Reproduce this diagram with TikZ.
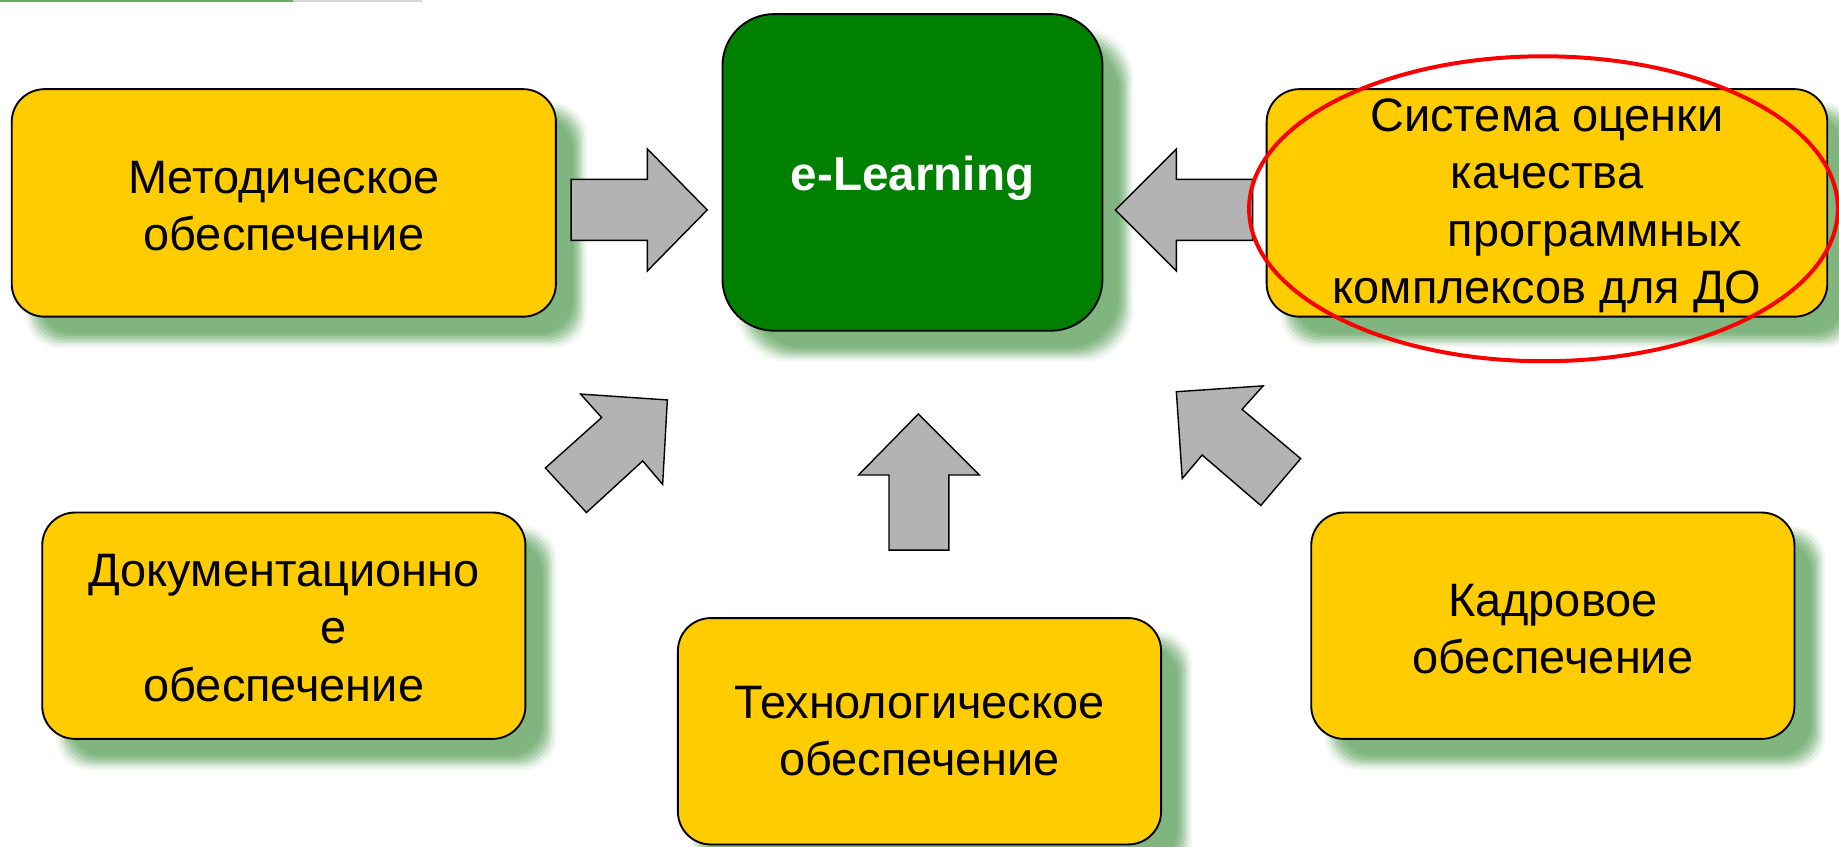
\documentclass[tikz,border=0pt]{standalone}
\usepackage{fontspec}
\setmainfont{Liberation Sans}
\usetikzlibrary{calc}
\definecolor{boxyellow}{RGB}{255,204,0}
\definecolor{boxgreen}{RGB}{0,128,0}
\definecolor{shadowgreen}{RGB}{128,181,128}
\definecolor{arrowgray}{RGB}{179,179,179}
\definecolor{ringred}{RGB}{250,0,0}
\definecolor{topgreen}{RGB}{100,170,100}
\definecolor{topgray}{RGB}{215,215,215}
\newcommand{\mkshadow}[2]{%
  \foreach \e/\op in {7/0.1,5/0.16,3/0.24,1/0.32,-1/0.42,-3/0.55,-5/1} {
    \fill[shadowgreen, fill opacity=\op, rounded corners=#2]
      ($(#1.north west)+(19-\e,19-\e)$) rectangle ($(#1.south east)+(19+\e,19+\e)$);
  }}
\begin{document}
\begin{tikzpicture}[x=0.5pt,y=-0.5pt,
  ybox/.style={draw=black, line width=0.8pt, fill=boxyellow, rounded corners=14pt,
    inner sep=0pt},
  gbox/.style={draw=black, line width=0.8pt, fill=boxgreen, rounded corners=22pt,
    inner sep=0pt},
  ytext/.style={inner sep=0pt, align=center, font=\fontsize{20pt}{24.4pt}\selectfont},
  gtext/.style={inner sep=0pt, align=center, text=white, font=\fontsize{20.3pt}{24pt}\selectfont\bfseries},
  blockarrow/.style={draw=black, line width=0.6pt, fill=arrowgray, line join=miter}]
\useasboundingbox (0,0) rectangle (1568,722);
\clip (0,0) rectangle (1568,722);
% top strip
\fill[topgreen] (0,0) rectangle (250,1.6);
\fill[topgray] (250,0) rectangle (360,1.6);
% box placement (invisible, for shadows)
\path
  (242,173) node[minimum width=232pt, minimum height=97pt, inner sep=0pt] (M) {}
  (778,147) node[minimum width=162pt, minimum height=135pt, inner sep=0pt] (E) {}
  (1319,173) node[minimum width=239pt, minimum height=97pt, inner sep=0pt] (S) {}
  (242,533.5) node[minimum width=206pt, minimum height=96.5pt, inner sep=0pt] (D) {}
  (784,623.5) node[minimum width=206pt, minimum height=96.5pt, inner sep=0pt] (T) {}
  (1324,533.5) node[minimum width=206pt, minimum height=96.5pt, inner sep=0pt] (K) {};
\mkshadow{M}{14pt}
\mkshadow{E}{22pt}
\mkshadow{S}{14pt}
\mkshadow{D}{14pt}
\mkshadow{T}{14pt}
\mkshadow{K}{14pt}
% real boxes
\node[ybox, minimum width=232pt, minimum height=97pt] (Mbox) at (M) {};
\node[gbox, minimum width=162pt, minimum height=135pt] (Ebox) at (E) {};
\node[ybox, minimum width=239pt, minimum height=97pt] (Sbox) at (S) {};
\node[ybox, minimum width=206pt, minimum height=96.5pt] (Dbox) at (D) {};
\node[ybox, minimum width=206pt, minimum height=96.5pt] (Tbox) at (T) {};
\node[ybox, minimum width=206pt, minimum height=96.5pt] (Kbox) at (K) {};
% texts
\node[ytext] (Mtxt) at ($(Mbox)+(0,3)$) {Методическое\\обеспечение};
\node[gtext] (Etxt) at ($(Ebox)+(0,5)$) {e-Learning};
\node[ytext] (Stxt) at ($(Sbox)+(0,2.5)$)
  {Система оценки\\качества\\\hspace*{41pt}программных\\комплексов для ДО};
\node[ytext] (Dtxt) at ($(Dbox)+(0,2)$)
  {Документационно\\\hspace*{42pt}е\\обеспечение};
\node[ytext] (Ttxt) at ($(Tbox)+(0,0)$) {Технологическое\\обеспечение};
\node[ytext] (Ktxt) at ($(Kbox)+(0,3)$) {Кадровое\\обеспечение};
% block arrows
\draw[blockarrow] (487,153) -- (552,153) -- (552,127) -- (603,179) -- (552,231) -- (552,205) -- (487,205) -- cycle;
\draw[blockarrow] (1068,153) -- (1003,153) -- (1003,127) -- (951,179) -- (1003,231) -- (1003,205) -- (1068,205) -- cycle;
\draw[blockarrow] (758,469) -- (758,405) -- (732,405) -- (783,353) -- (835,405) -- (809,405) -- (809,469) -- cycle;
\draw[blockarrow] (465,399) -- (513,356) -- (495,336) -- (569,341) -- (565,413) -- (548,393) -- (500,437) -- cycle;
\draw[blockarrow] (1109,391) -- (1059,349) -- (1077,329) -- (1003,334) -- (1008,408) -- (1025,388) -- (1075,431) -- cycle;
% red ring
\draw[ringred, line width=1.7pt] ($(Sbox.center)+(-3,5)$) ellipse [x radius=125.5pt, y radius=65pt];
\end{tikzpicture}
\end{document}
